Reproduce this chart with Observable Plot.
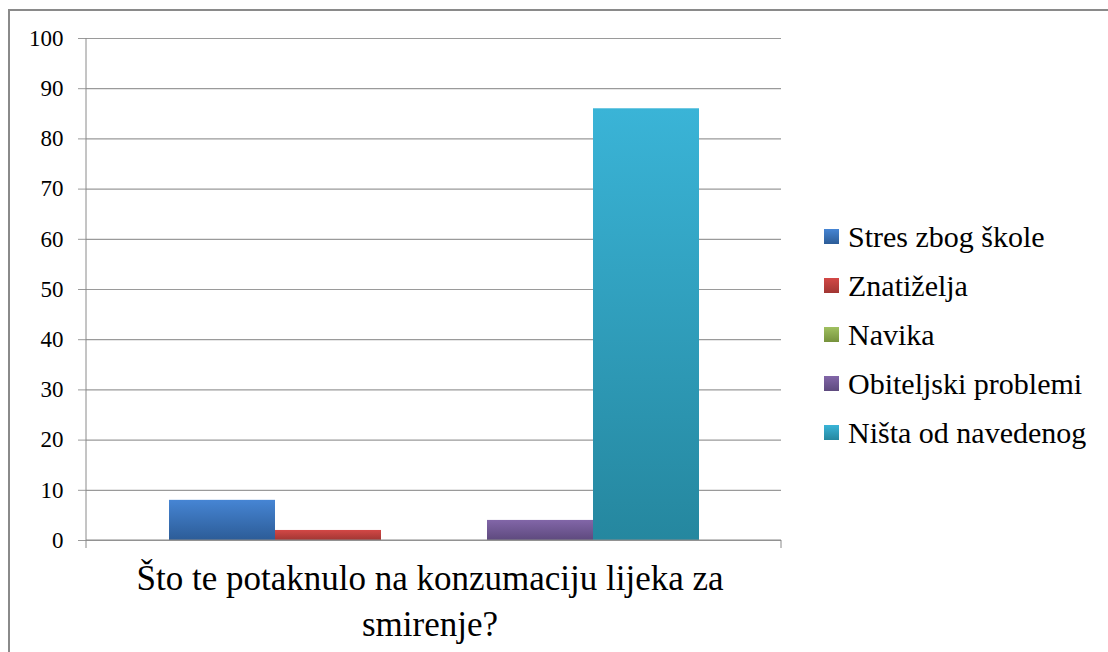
<!DOCTYPE html>
<html>
<head>
<meta charset="utf-8">
<script src="https://cdn.jsdelivr.net/npm/d3@7"></script>
<script src="https://cdn.jsdelivr.net/npm/@observablehq/plot@0.6"></script>
<style>
  html, body { margin: 0; padding: 0; background: #fff; font-family: "Liberation Serif", serif; }
  #wrap { position: relative; width: 1108px; height: 652px; background: #fff; color: #000; }
  #border { position: absolute; left: 8px; top: 9px; width: 1100px; height: 643px;
            border-top: 2px solid #8a8a8a; border-left: 2px solid #8a8a8a; box-sizing: border-box; }
  #chart { position: absolute; left: 0; top: 0; }
  #legend { position: absolute; left: 824px; top: 212px; }
  .item { display: flex; align-items: center; height: 49px; font-size: 30px; white-space: nowrap; }
  .sw { width: 15px; height: 15px; margin-right: 9px; flex: none; }
  #xlabel { position: absolute; left: 80px; width: 700px; top: 556px; text-align: center;
            font-size: 35px; line-height: 46px; }
</style>
</head>
<body>
<div id="wrap">
  <div id="border"></div>
  <div id="chart"></div>
  <div id="legend"></div>
  <div id="xlabel"></div>
</div>
<script>
const categories = ["Što te potaknulo na konzumaciju lijeka za smirenje?"];
const categoryLines = ["Što te potaknulo na konzumaciju lijeka za", "smirenje?"];
const series = ["Stres zbog škole", "Znatiželja", "Navika", "Obiteljski problemi", "Ništa od navedenog"];
const values = [8, 2, 0, 4, 86];
const yTicks = [0, 10, 20, 30, 40, 50, 60, 70, 80, 90, 100];
const colorsTop = ["#4685d4", "#d34846", "#a0c060", "#8266a8", "#3ab4d7"];
const colorsBottom = ["#2c5c97", "#a13633", "#76923c", "#5e4a7e", "#25879f"];

const FONT = "'Liberation Serif', serif";
const rows = series.map((s, i) => ({category: categories[0], series: s, value: values[i], idx: i}));

const axisLines = (index, scales, channels, dimensions) => {
  const {y} = scales;
  const {width, marginLeft, marginRight} = dimensions;
  const g = d3.create("svg:g").attr("stroke", "#8a8a8a").attr("stroke-width", 1);
  const y0 = y(0), yTop = y(100);
  g.append("line").attr("x1", marginLeft).attr("x2", marginLeft).attr("y1", yTop).attr("y2", y0 + 8);
  g.append("line").attr("x1", marginLeft).attr("x2", width - marginRight).attr("y1", y0).attr("y2", y0);
  g.append("line").attr("x1", width - marginRight).attr("x2", width - marginRight).attr("y1", y0).attr("y2", y0 + 8);
  return g.node();
};

const chart = Plot.plot({
  width: 800,
  height: 556,
  marginLeft: 86,
  marginRight: 19,
  marginTop: 38,
  marginBottom: 16,
  style: {fontFamily: FONT, background: "transparent", overflow: "visible"},
  x: {domain: series, paddingInner: 0, paddingOuter: 0.748, axis: null},
  y: {domain: [0, 100], ticks: yTicks},
  marks: [
    Plot.ruleY(yTicks, {stroke: "#9a9a9a", strokeWidth: 1.2}),
    Plot.axisY({ticks: yTicks, tickSize: 8, tickPadding: 15, stroke: "#9a9a9a", fontSize: 23, fill: "#000", label: null}),
    ...rows.map(r => Plot.barY([r], {x: "series", y: "value", fill: `url(#grad${r.idx})`})),
    axisLines
  ]
});

const svg = d3.select(chart);
const defs = svg.insert("defs", ":first-child");
series.forEach((s, i) => {
  const lg = defs.append("linearGradient").attr("id", `grad${i}`)
    .attr("x1", 0).attr("y1", 0).attr("x2", 0).attr("y2", 1);
  lg.append("stop").attr("offset", "0%").attr("stop-color", colorsTop[i]);
  lg.append("stop").attr("offset", "100%").attr("stop-color", colorsBottom[i]);
});

document.getElementById("chart").appendChild(chart);

const legend = d3.select("#legend");
series.forEach((s, i) => {
  const it = legend.append("div").attr("class", "item");
  it.append("div").attr("class", "sw")
    .style("background", `linear-gradient(${colorsTop[i]}, ${colorsBottom[i]})`);
  it.append("span").text(s);
});

const xl = d3.select("#xlabel");
categoryLines.forEach(t => xl.append("div").text(t));
</script>
</body>
</html>
